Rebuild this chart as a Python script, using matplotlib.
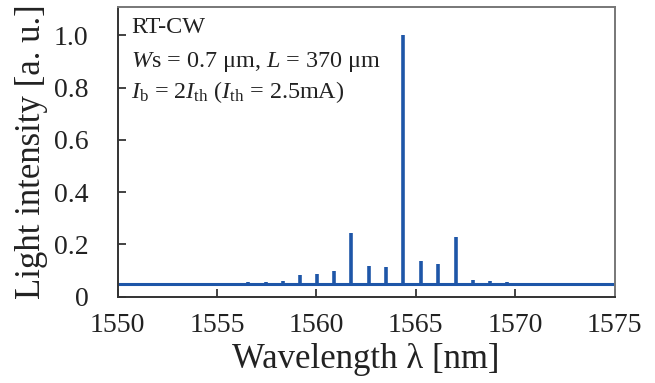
import matplotlib
matplotlib.use("Agg")
import matplotlib.pyplot as plt

# longitudinal mode positions (nm) and peak intensities (a.u.)
mode_wl = [1556.58, 1557.45, 1558.31, 1559.18, 1560.05, 1560.91, 1561.76, 1562.64,
           1563.51, 1564.36, 1565.25, 1566.12, 1567.01, 1567.87, 1568.74, 1569.61]
mode_int = [0.056, 0.057, 0.060, 0.083, 0.087, 0.098, 0.245, 0.116,
            0.112, 1.000, 0.135, 0.125, 0.228, 0.065, 0.061, 0.056]
baseline = 0.047
x_range = [1550, 1575]
xticks = [1550, 1555, 1560, 1565, 1570, 1575]
yticks = [0, 0.2, 0.4, 0.6, 0.8, 1.0]
ytick_labels = ["0", "0.2", "0.4", "0.6", "0.8", "1.0"]

plt.rcParams["font.family"] = ["Liberation Serif", "DejaVu Serif"]
plt.rcParams["mathtext.fontset"] = "custom"
plt.rcParams["mathtext.rm"] = "Liberation Serif"
plt.rcParams["mathtext.it"] = "Liberation Serif:italic"

color = "#1e56a8"
txt = "#222222"

fig = plt.figure(figsize=(6.55, 3.83), dpi=100)
ax = fig.add_axes([0.1794, 0.2253, 0.7588, 0.7572])

ax.hlines(baseline, x_range[0], x_range[1], color=color, lw=2.2)
ax.vlines(mode_wl, baseline, mode_int, color=color, lw=2.6)

ax.set_xlim(*x_range)
ax.set_ylim(0, 1.109)
ax.set_xticks(xticks)
ax.set_yticks(yticks)
ax.set_yticklabels(ytick_labels)
ax.tick_params(direction="in", length=6, width=1.2, labelsize=20, colors=txt)
ax.tick_params(axis="x", pad=12)
ax.tick_params(axis="y", pad=21)

for s in ["left", "bottom"]:
    ax.spines[s].set_color("#333333")
    ax.spines[s].set_linewidth(1.4)
for s in ["top", "right"]:
    ax.spines[s].set_color("#777777")
    ax.spines[s].set_linewidth(1.4)

ax.set_xlabel("Wavelength λ [nm]", fontsize=25, color=txt, labelpad=3)
ax.set_ylabel("Light intensity [a. u.]", fontsize=25, color=txt, labelpad=4)

ax.text(0.027, 0.909, "RT-CW", transform=ax.transAxes, fontsize=17.4,
        va="baseline", ha="left", color=txt)
ax.text(0.027, 0.793, "$W$s = 0.7 μm, $L$ = 370 μm", transform=ax.transAxes,
        fontsize=17.4, va="baseline", ha="left", color=txt)
ax.text(0.027, 0.685, r"$I_{\rm b}$ = 2$I_{\rm th}$ ($I_{\rm th}$ = 2.5mA)",
        transform=ax.transAxes, fontsize=17.4, va="baseline", ha="left", color=txt)

fig.savefig("out.png", dpi=100)
